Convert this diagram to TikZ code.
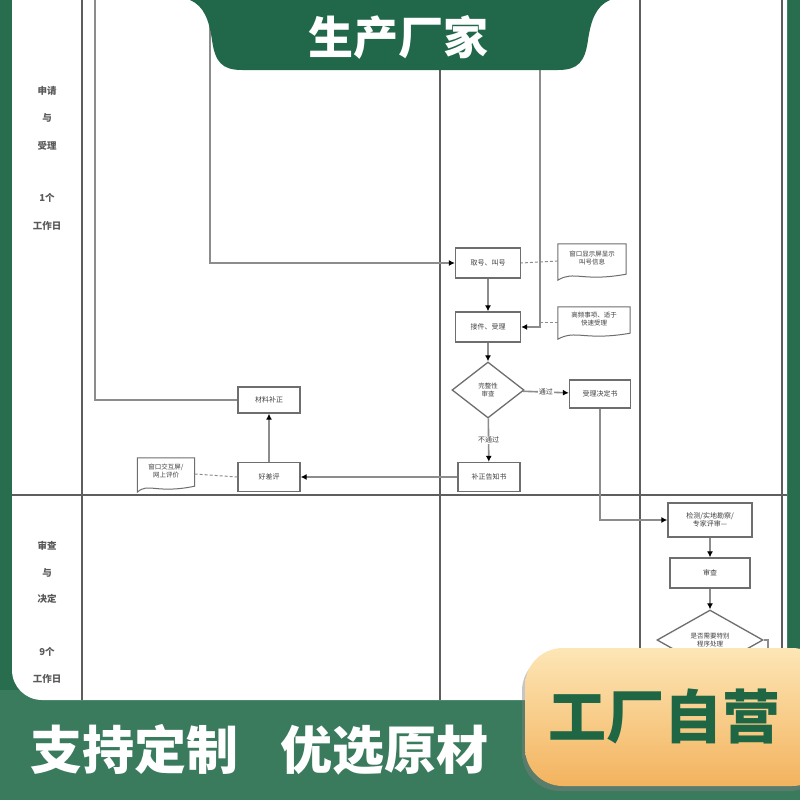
\documentclass[tikz,border=0pt]{standalone}
\usepackage{fontspec}
\setmainfont{Noto Sans CJK SC}
\usetikzlibrary{shapes.geometric,arrows.meta,shadows}
\definecolor{bggreen}{HTML}{276D4E}
\definecolor{botgreen}{HTML}{3A7A5D}
\definecolor{tabgreen}{HTML}{21684A}
\definecolor{darkgreen}{HTML}{1E6644}
\definecolor{lanegray}{HTML}{5E5E5E}
\definecolor{flowgray}{HTML}{8C8C8C}
\definecolor{boxgray}{HTML}{6E6E6E}
\definecolor{otop}{HTML}{FDE6B6}
\definecolor{obot}{HTML}{F3B35E}
\tikzset{
  box/.style={draw=boxgray, line width=1.3pt, fill=white, minimum width=62pt, minimum height=29pt, inner sep=1pt, font=\fontsize{7}{8.5}\selectfont, align=center, text=black!75},
  dia/.style={diamond, draw=boxgray, line width=1.3pt, fill=white, aspect=1.3, inner sep=1pt, font=\fontsize{6.5}{8}\selectfont, align=center, text=black!75},
  doctext/.style={minimum width=68pt, minimum height=32pt, inner sep=1pt, font=\fontsize{6.5}{8}\selectfont, align=center, text=black!75},
  docline/.style={draw=boxgray, line width=1pt, fill=white},
  flow/.style={draw=flowgray, line width=1.6pt},
  arr/.style={flow, -{Latex[length=6pt,width=6pt,color=black]}},
  dashy/.style={draw=flowgray, line width=1pt, dash pattern=on 3pt off 2pt},
  lane/.style={draw=lanegray, line width=1.1pt},
  lbl/.style={font=\fontsize{9.5}{10}\selectfont\bfseries, text=black!65},
  flbl/.style={fill=white, inner sep=1pt, font=\fontsize{7}{8}\selectfont, text=black!75}
}
\newcommand\mydoc[1]{\path[docline] (#1.north west) -- (#1.north east) -- ([yshift=4pt]#1.south east) .. controls ([xshift=-10pt,yshift=-4pt]#1.south) and ([xshift=-18pt,yshift=8pt]#1.south) .. ([yshift=-2pt]#1.south west) -- cycle;}
\begin{document}
\begin{tikzpicture}[x=1pt,y=-1pt]
\useasboundingbox (0,0) rectangle (800,800);
% background
\fill[bggreen] (0,0) rectangle (800,800);
\fill[botgreen] (0,690) rectangle (800,800);
\fill[white, rounded corners=30pt] (12,-40) rectangle (787,700);
% lanes
\draw[lane] (82,0) -- (82,700);
\draw[lane] (440,0) -- (440,700);
\draw[lane] (640,0) -- (640,700);
\draw[lane] (782,0) -- (782,700);
\draw[lane] (12,495) -- (787,495);
% left labels
\node[lbl] (l1) at (47,91) {申请};
\node[lbl] (l2) at (47,118) {与};
\node[lbl] (l3) at (47,146) {受理};
\node[lbl] (l4) at (47,198) {1个};
\node[lbl] (l5) at (47,226) {工作日};
\node[lbl] (l6) at (47,546) {审查};
\node[lbl] (l7) at (47,573) {与};
\node[lbl] (l8) at (47,599) {决定};
\node[lbl] (l9) at (47,652) {9个};
\node[lbl] (l10) at (47,679) {工作日};
% top entry coordinates
\coordinate (c1) at (95,0);
\coordinate (c2) at (210,0);
\coordinate (c3) at (540,0);
% nodes
\node[box, minimum width=65pt, minimum height=30pt] (qh) at (488,263) {取号、叫号};
\node[box, minimum width=65pt, minimum height=30pt] (js) at (488,327) {接件、受理};
\node[dia, minimum width=72pt, minimum height=56pt] (dm1) at (488,390) {完整性\\审查};
\node[box, minimum width=61pt, minimum height=28pt] (sljd) at (600,394) {受理决定书};
\node[box, minimum width=62pt, minimum height=29pt] (bz) at (489,477) {补正告知书};
\node[box, minimum width=62pt, minimum height=29pt] (hcp) at (269,477) {好差评};
\node[box, minimum width=62pt, minimum height=26pt] (clbz) at (269,400) {材料补正};
\node[box, minimum width=84pt, minimum height=34pt] (jc) at (710,520) {检测/实地勘察/\\专家评审—};
\node[box, minimum width=80pt, minimum height=30pt] (sc) at (710,573) {审查};
\node[dia, minimum width=106pt, minimum height=60pt] (dm2) at (710,640) {是否需要特别\\程序处理};
\coordinate (c4) at (768,640);
\coordinate (c5) at (768,720);
% documents
\node[doctext, minimum height=34pt] (d1) at (592,261) {};
\mydoc{d1}
\node[doctext, anchor=center] (d1t) at (592,258) {窗口显示屏显示\\叫号信息};
\node[doctext, minimum width=72pt, minimum height=30pt] (d2) at (594,322) {};
\mydoc{d2}
\node[doctext, anchor=center] (d2t) at (594,319) {高频事项、适于\\快速受理};
\node[doctext, minimum width=57pt, minimum height=32pt] (d3) at (166,474) {};
\mydoc{d3}
\node[doctext, anchor=center] (d3t) at (166,471) {窗口交互屏/\\网上评价};
% connectors
\draw[flow] (c1) |- (clbz.west);
\draw[arr] (c2) |- (qh.west);
\draw[arr] (c3) |- (js.east);
\draw[dashy] (d1.west) -- (qh.east);
\draw[dashy] (d2.west) -- (d2.west -| c3);
\draw[arr] (qh) -- (js);
\draw[arr] (js) -- (dm1);
\draw[arr] (dm1) -- node[flbl] {通过} (sljd);
\draw[arr] (dm1) -- node[flbl] {不通过} (bz);
\draw[arr] (bz) -- (hcp);
\draw[arr] (hcp) -- (clbz);
\draw[dashy] (d3.east) -- (hcp.west);
\draw[arr] (sljd.south) |- (jc.west);
\draw[arr] (jc) -- (sc);
\draw[arr] (sc) -- (dm2);
\draw[flow] (dm2.east) -- (c4) -- (c5);
% header tab
\fill[tabgreen] (190,0) -- (610,0) .. controls (596,6) and (591,20) .. (588,40)
  .. controls (585,62) and (578,70) .. (558,70) -- (242,70)
  .. controls (222,70) and (215,62) .. (212,40) .. controls (209,20) and (204,6) .. (190,0) -- cycle;
\node[font=\fontsize{45}{47}\selectfont\bfseries, text=white] (title) at (398,37) {生产厂家};
% bottom text
\node[font=\fontsize{52}{54}\selectfont\bfseries, text=white, anchor=west, inner sep=0pt] (slogan) at (30,750) {支持定制\hspace{0.82em}优选原材};
% orange badge
\path[rounded corners=38pt, top color=otop, bottom color=obot, drop shadow={opacity=0.45, shadow xshift=-3pt, shadow yshift=-5pt}] (525,648) rectangle (830,786);
\node[font=\fontsize{58}{60}\selectfont\bfseries, text=darkgreen] (badge) at (664,716) {工厂自营};
\end{tikzpicture}
\end{document}
